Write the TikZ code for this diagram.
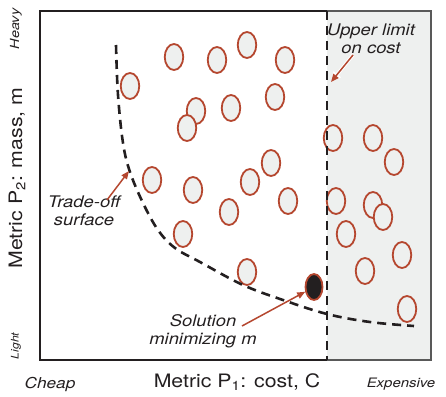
\documentclass[tikz,border=0pt]{standalone}
\usepackage{fontspec}
\setmainfont{TeX Gyre Heros}[FakeStretch=1.15]
\usetikzlibrary{arrows.meta,shapes.geometric}
\definecolor{brick}{HTML}{B5472F}
\definecolor{pale}{HTML}{EEF0EF}
\definecolor{ink}{HTML}{231F20}
\begin{document}
\begin{tikzpicture}[x=1pt,y=-1pt,
  opt/.style={ellipse,draw=brick,line width=1.8pt,fill=pale,minimum width=18.5pt,minimum height=26pt,inner sep=0pt},
  best/.style={opt,fill=ink,minimum width=17pt,minimum height=26pt},
  dashline/.style={draw=ink,line width=2.6pt,dash pattern=on 9pt off 6pt},
  pointer/.style={draw=brick,line width=1.5pt,-{Triangle[length=8pt,width=6.5pt]}},
  lab/.style={font=\itshape\fontsize{16}{18}\selectfont,text=ink,align=center,inner sep=0pt},
  axlab/.style={font=\fontsize{18.5}{20}\selectfont,text=ink,inner sep=0pt},
  endlab/.style={font=\itshape\fontsize{13}{15}\selectfont,text=ink,inner sep=0pt}]
\useasboundingbox (0,0) rectangle (446,396);
% shaded over-budget region
\fill[pale] (327,11) rectangle (431,360);
\draw[line width=1.6pt,draw=black!65] (327,11) -- (431,11) -- (431,360) -- (327,360);
\draw[line width=2pt,draw=ink] (327,11) -- (40,11) -- (40,360) -- (327,360);
% design points
\foreach \x/\y [count=\i] in {130/86,174/57,217/60,247/45,285/60,196/111,231/108,275/97,187/128,
  152/180,193/190,250/182,271/163,229/212,288/201,183/234,247/272,
  333/138,373/138,394/162,336/201,373/205,383/217,346/234,402/255,365/271,407/309}
  \node[opt] (e\i) at (\x,\y) {};
\node[best] (sol) at (314,287) {};
% trade-off curve
\draw[dashline] plot[smooth,tension=0.6] coordinates {(116,45) (118,95) (123,143) (130,172) (143,203) (158,230) (175,248) (200,262) (243,285) (283,300) (327,314) (370,322) (414,326)};
% cost limit
\draw[dashline] (327,11) -- (327,360);
% coordinates on the lines
\coordinate (tcurve) at (129,171);
\coordinate (tlimit) at (331,82);
% labels
\node[lab] (tradeoff) at (84,211) {Trade-off\\surface};
\node[lab] (limit) at (371,39) {Upper limit\\on cost};
\node[lab] (solution) at (203,331) {Solution\\minimizing m};
\node[axlab] (xaxis) at (237,382) {Metric P\textsubscript{1}: cost, C};
\node[axlab,rotate=90] (yaxis) at (17,178) {Metric P\textsubscript{2}: mass, m};
\node[endlab,font=\itshape\fontsize{15}{17}\selectfont] (cheap) at (50,384) {Cheap};
\node[endlab] (expensive) at (401,384) {Expensive};
\node[endlab,font=\itshape\fontsize{12.5}{14}\selectfont,rotate=90] (heavy) at (16,29) {Heavy};
\node[endlab,font=\itshape\fontsize{10.5}{12}\selectfont,rotate=90] (light) at (16,346) {Light};
% pointers
\coordinate (tt) at (107,200);
\draw[pointer] (tt) -- (tcurve);
\coordinate (lt) at (353,55);
\draw[line width=3.5pt,white,-{Triangle[length=10pt,width=9pt]}] (lt) -- (tlimit);
\draw[pointer] (lt) -- (tlimit);
\coordinate (st) at (242,326);
\draw[pointer] (st) -- (sol);
\end{tikzpicture}
\end{document}
